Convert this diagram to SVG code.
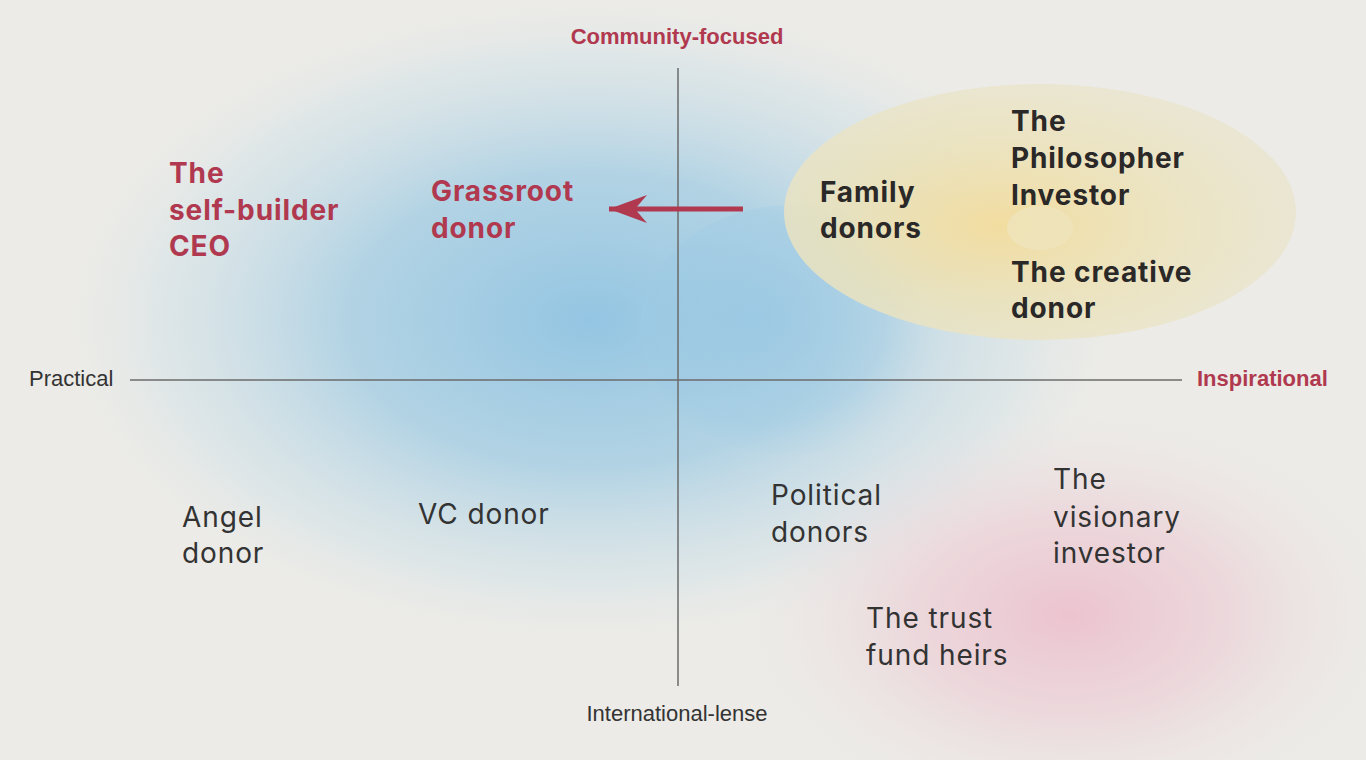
<svg xmlns="http://www.w3.org/2000/svg" width="1366" height="760" viewBox="0 0 1366 760">
<defs>
<radialGradient id="blue" cx="0.5" cy="0.5" r="0.5">
<stop offset="0" stop-color="#8fc3e2" stop-opacity="0.95"/>
<stop offset="0.45" stop-color="#9fcbe3" stop-opacity="0.75"/>
<stop offset="0.8" stop-color="#c5dde8" stop-opacity="0.35"/>
<stop offset="1" stop-color="#eaecea" stop-opacity="0"/>
</radialGradient>
<radialGradient id="lobe" cx="0.4" cy="0.45" r="0.6">
<stop offset="0" stop-color="#93c5e3" stop-opacity="0.6"/>
<stop offset="0.7" stop-color="#9fcbe4" stop-opacity="0.4"/>
<stop offset="1" stop-color="#b5d5e6" stop-opacity="0"/>
</radialGradient>
<radialGradient id="pink" cx="0.5" cy="0.5" r="0.5">
<stop offset="0" stop-color="#ecbfcc" stop-opacity="0.9"/>
<stop offset="0.5" stop-color="#ecc9d3" stop-opacity="0.55"/>
<stop offset="1" stop-color="#ecdfe3" stop-opacity="0"/>
</radialGradient>
<radialGradient id="yellow" cx="0.42" cy="0.55" r="0.6">
<stop offset="0" stop-color="#f3dc9c" stop-opacity="0.95"/>
<stop offset="0.5" stop-color="#ece2b8" stop-opacity="0.85"/>
<stop offset="1" stop-color="#e9e5cf" stop-opacity="0.8"/>
</radialGradient>
<marker id="arrow" viewBox="0 0 40 30" refX="38" refY="15" markerWidth="40" markerHeight="30" markerUnits="userSpaceOnUse" orient="auto">
<path d="M38,15 L0,1 L12,15 L0,29 Z" fill="#b0394f"/>
</marker>
<style>
.bold{font-family:Inter,"Open Sans",sans-serif;font-weight:700;font-size:28px;letter-spacing:0.9px}
.reg{font-family:Inter,"Open Sans",sans-serif;font-weight:400;font-size:28px;letter-spacing:0.9px;fill:#333}
.red{fill:#b0394f}
.dark{fill:#2b2828}
.axis{font-family:"Liberation Sans",Arial,sans-serif;font-size:22px}
.axline{stroke:#6b6b6b;stroke-width:1.5}
</style>
</defs>
<rect width="1366" height="760" fill="#ecebe7"/>
<ellipse cx="590" cy="320" rx="540" ry="330" fill="url(#blue)"/>
<ellipse cx="790" cy="330" rx="150" ry="125" fill="url(#lobe)"/>
<ellipse cx="1070" cy="615" rx="320" ry="200" fill="url(#pink)"/>
<g id="cluster">
<ellipse cx="1040" cy="212" rx="256" ry="128" fill="url(#yellow)"/>
<ellipse cx="1040" cy="228" rx="33" ry="22" fill="#efe4bd" opacity="0.8"/>
</g>
<g id="axes">
<line class="axline" x1="678" y1="68" x2="678" y2="686"/>
<line class="axline" x1="130" y1="380" x2="1182" y2="380"/>
<text class="axis red" x="677" y="44" text-anchor="middle" font-weight="700">Community-focused</text>
<text class="axis" x="29" y="386" fill="#333">Practical</text>
<text class="axis red" x="1197" y="386" font-weight="700">Inspirational</text>
<text class="axis" x="677" y="721" text-anchor="middle" fill="#333">International-lense</text>
</g>
<g id="connectors">
<line x1="743" y1="209" x2="609" y2="209" stroke="#b0394f" stroke-width="5" marker-end="url(#arrow)"/>
</g>
<g id="self-builder"><text class="bold red" x="169" y="183">The</text><text class="bold red" x="169" y="220">self-builder</text><text class="bold red" x="169" y="256">CEO</text></g>
<g id="grassroot"><text class="bold red" x="431" y="201">Grassroot</text><text class="bold red" x="431" y="238">donor</text></g>
<g id="family"><text class="bold dark" x="820" y="202">Family</text><text class="bold dark" x="820" y="238">donors</text></g>
<g id="philosopher"><text class="bold dark" x="1011" y="131">The</text><text class="bold dark" x="1011" y="168">Philosopher</text><text class="bold dark" x="1011" y="205">Investor</text></g>
<g id="creative"><text class="bold dark" x="1011" y="282">The creative</text><text class="bold dark" x="1011" y="318">donor</text></g>
<g id="angel"><text class="reg" x="182" y="527">Angel</text><text class="reg" x="182" y="563">donor</text></g>
<g id="vc"><text class="reg" x="418" y="524">VC donor</text></g>
<g id="political"><text class="reg" x="771" y="505">Political</text><text class="reg" x="771" y="542">donors</text></g>
<g id="visionary"><text class="reg" x="1053" y="489">The</text><text class="reg" x="1053" y="527">visionary</text><text class="reg" x="1053" y="563">investor</text></g>
<g id="trust"><text class="reg" x="866" y="628">The trust</text><text class="reg" x="866" y="665">fund heirs</text></g>
</svg>
